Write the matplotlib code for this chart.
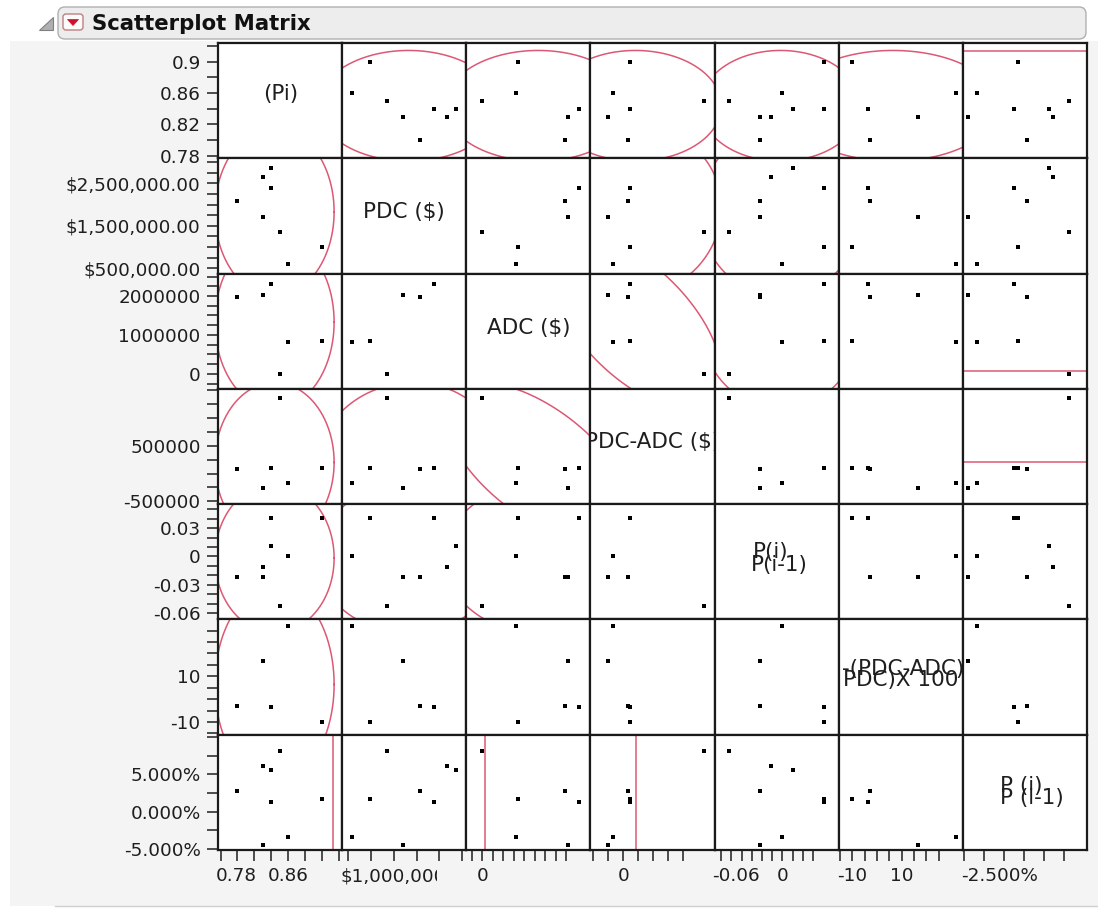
import numpy as np
import matplotlib
matplotlib.use("Agg")
import matplotlib.pyplot as plt
from matplotlib.patches import FancyBboxPatch, Polygon, Rectangle
from matplotlib.transforms import blended_transform_factory, ScaledTranslation, Bbox

W, H, DPI = 1098, 908, 100
nan = np.nan

# ---------------- data (8 rows) ----------------
pi_vals    = [0.84, 0.83, 0.84, 0.80, 0.83, 0.85, 0.90, 0.86]
pdc_vals   = [2868000, 2657000, 2383000, 2071000, 1711000, 1352000, 993000, 595000]
adc_vals   = [nan, nan, 2310000, 1980000, 2030000, 0, 855000, 810000]
diff_vals  = [nan, nan, 104000, 75000, -261000, 1352000, 104000, -171000]
ratio_vals = [0.0106, -0.011, 0.041, -0.022, -0.022, -0.052, 0.041, 0.0]
pct_vals   = [nan, nan, -3.6, -2.85, 16.6, nan, -10.2, 32.2]
rpct_vals  = [5.61, 6.06, 1.26, 2.83, -4.48, 8.08, 1.71, -3.36]

series = [pi_vals, pdc_vals, adc_vals, diff_vals, ratio_vals, pct_vals, rpct_vals]

# axis ranges
ranges = [(0.777, 0.9236), (378000, 3086000), (-385000, 2577000),
          (-549000, 1520000), (-0.0665, 0.0553), (-15.6, 34.9), (-5.15, 10.32)]

# y-axis ticks (left column)
y_minor = [np.arange(0.78, 0.921, 0.02), np.arange(500000, 3000001, 250000),
           np.arange(-250000, 2500001, 250000), np.arange(-500000, 1500001, 250000),
           np.arange(-0.06, 0.051, 0.01), np.arange(-15, 31, 5), np.arange(-5, 10.1, 2.5)]
y_major = [[0.78, 0.82, 0.86, 0.90], [500000, 1500000, 2500000], [0, 1000000, 2000000],
           [-500000, 500000], [-0.06, -0.03, 0, 0.03], [-10, 10], [-5, 0, 5]]
y_labels = [["0.78", "0.82", "0.86", "0.9"],
            ["$500,000.00", "$1,500,000.00", "$2,500,000.00"],
            ["0", "1000000", "2000000"],
            ["-500000", "500000"],
            ["-0.06", "-0.03", "0", "0.03"],
            ["-10", "10"],
            ["-5.000%", "0.000%", "5.000%"]]

# x-axis ticks (bottom row)
x_ticks = [np.arange(0.78, 0.921, 0.02), np.arange(500000, 3000001, 500000),
           np.arange(-250000, 2000001, 250000), np.arange(-500000, 1000001, 250000),
           np.arange(-0.06, 0.031, 0.01), np.arange(-15, 26, 5), np.arange(-5, 7.6, 2.5)]
x_major = [[0.78, 0.86], [1000000], [0], [0], [-0.06, 0], [-10, 10], [-2.5]]
x_labels = [["0.78", "0.86"], ["$1,000,000.00"], ["0"], ["0"], ["-0.06", "0"],
            ["-10", "10"], ["-2.500%"]]

# diagonal labels
diag_text = [[("(Pi)", 0.508, 0.555, "center")],
             [("PDC ($)", 0.50, 0.537, "center")],
             [("ADC ($)", 0.50, 0.530, "center")],
             [("PDC-ADC ($)", 0.50, 0.540, "center")],
             [("P(i)", 0.306, 0.585, "left"), ("P(i-1)", 0.296, 0.470, "left")],
             [("-(PDC-ADC)", 0.516, 0.566, "center"), ("PDC)X 100", 0.50, 0.471, "center")],
             [("P (i)", 0.298, 0.553, "left"), ("P (i-1)", 0.298, 0.449, "left")]]

# density-ellipse correlations (pairs not listed show no ellipse)
ellipse_r = {(0, 1): 0.0, (0, 2): 0.0, (0, 3): 0.0, (0, 4): 0.0, (0, 5): 0.0,
             (1, 3): 0.05, (1, 4): 0.0, (2, 3): -0.6, (2, 4): 0.0}
# fitted lines shown for the last variable's pairs
last_var_lines = {0: 0.913, 2: 70000, 3: 210000}

RED = "#dc5874"
TXT = "#1e1e1e"
TICK_FS = 13.2
DIAG_FS = 15.5

fig = plt.figure(figsize=(W / DPI, H / DPI), dpi=DPI)
fig.patch.set_facecolor("white")

bg = fig.add_axes([0, 0, 1, 1], zorder=0)
bg.set_xlim(0, W)
bg.set_ylim(H, 0)
bg.axis("off")
bg.add_patch(Rectangle((10, 41), W - 10, 865, facecolor="#f4f4f4", edgecolor="none"))
bg.plot([55, W], [906, 906], color="#cfcfcf", lw=1)
bg.add_patch(FancyBboxPatch((58, 7), 1028, 32, boxstyle="round,pad=0,rounding_size=7",
                            facecolor="#ededed", edgecolor="#b0b0b0", lw=1))
bg.add_patch(Polygon([(53, 17), (53, 30), (39, 30)], closed=True,
                     facecolor="#b0b0b0", edgecolor="#808080", lw=0.8))
bg.add_patch(FancyBboxPatch((63, 14), 20, 16, boxstyle="round,pad=0,rounding_size=3",
                            facecolor="#fbfbfb", edgecolor="#c08080", lw=1))
bg.add_patch(Polygon([(67.5, 19.5), (78.5, 19.5), (73, 25.5)], closed=True,
                     facecolor="#d0102a", edgecolor="#d0102a", lw=0.5))
bg.text(92, 24, "Scatterplot Matrix", fontsize=15.3, fontweight="bold",
        va="center", ha="left", color="#111111")

X0, X1, Y0, Y1 = 218, 1087, 43, 850
n = 7
cw = (X1 - X0) / n
ch = (Y1 - Y0) / n
C2 = np.sqrt(5.991)


def ellipse(xi, yi, r):
    x = np.array(series[xi], float)
    y = np.array(series[yi], float)
    mx, sx = np.nanmean(x), np.nanstd(x, ddof=1)
    my, sy = np.nanmean(y), np.nanstd(y, ddof=1)
    t = np.linspace(0, 2 * np.pi, 600)
    ex = mx + C2 * sx * np.cos(t)
    ey = my + C2 * sy * (r * np.cos(t) + np.sqrt(max(1 - r * r, 0)) * np.sin(t))
    return ex, ey


bottom_texts = []
for r in range(n):
    for c in range(n):
        px0 = X0 + c * cw
        py0 = Y0 + r * ch
        ax = fig.add_axes([px0 / W, 1 - (py0 + ch) / H, cw / W, ch / H], zorder=2)
        ax.set_facecolor("white")
        ax.set_xlim(*ranges[c])
        ax.set_ylim(*ranges[r])
        for s in ax.spines.values():
            s.set_linewidth(1.6)
            s.set_color("#1a1a1a")
        ax.tick_params(axis="both", which="both", direction="out", length=8,
                       width=1.1, color=TXT, labelsize=TICK_FS, labelcolor=TXT, pad=4.5)
        if c == 0:
            ax.set_yticks(y_minor[r], minor=True)
            ax.set_yticks(y_major[r], labels=y_labels[r])
        else:
            ax.set_yticks([])
        if r == n - 1:
            ax.set_xticks(x_ticks[c], labels=[""] * len(x_ticks[c]))
            tr = blended_transform_factory(ax.transData, ax.transAxes) + \
                ScaledTranslation(0, -12.5 / 72, fig.dpi_scale_trans)
            for v, s in zip(x_major[c], x_labels[c]):
                t = ax.text(v, 0, s, transform=tr, ha="center", va="top",
                            fontsize=TICK_FS, color=TXT, clip_on=False)
                bottom_texts.append((ax, t, px0, px0 + cw))
        else:
            ax.set_xticks([])

        if r == c:
            for s, fx, fy, ha in diag_text[r]:
                t = ax.text(fx, fy, s, transform=ax.transAxes, ha=ha, va="center",
                            fontsize=DIAG_FS, color=TXT)
                t.set_clip_on(True)
                t.set_clip_box(ax.bbox)
            continue

        xs = np.array(series[c], float)
        ys = np.array(series[r], float)
        key = (min(r, c), max(r, c))
        if c == n - 1 and r in last_var_lines:
            ax.axhline(last_var_lines[r], color=RED, lw=1.1)
        elif r == n - 1 and c in last_var_lines:
            ax.axvline(last_var_lines[c], color=RED, lw=1.1)
        elif key in ellipse_r:
            ex, ey = ellipse(c, r, ellipse_r[key])
            ax.plot(ex, ey, color=RED, lw=1.1)
        ax.plot(xs, ys, "s", color="black", ms=2.9, mew=0, zorder=5)

fig.canvas.draw()
renderer = fig.canvas.get_renderer()
for ax, t, left, right in bottom_texts:
    bb = t.get_window_extent(renderer)
    if bb.x0 < left - 3:
        newx = ax.transData.inverted().transform((left - 2, 0))[0]
        t.set_x(newx)
        t.set_ha("left")
    t.set_clip_on(True)
    t.set_clip_box(Bbox([[left - 10, 0], [right - 29, H]]))

fig.savefig("out.png", dpi=DPI, facecolor=fig.get_facecolor())
